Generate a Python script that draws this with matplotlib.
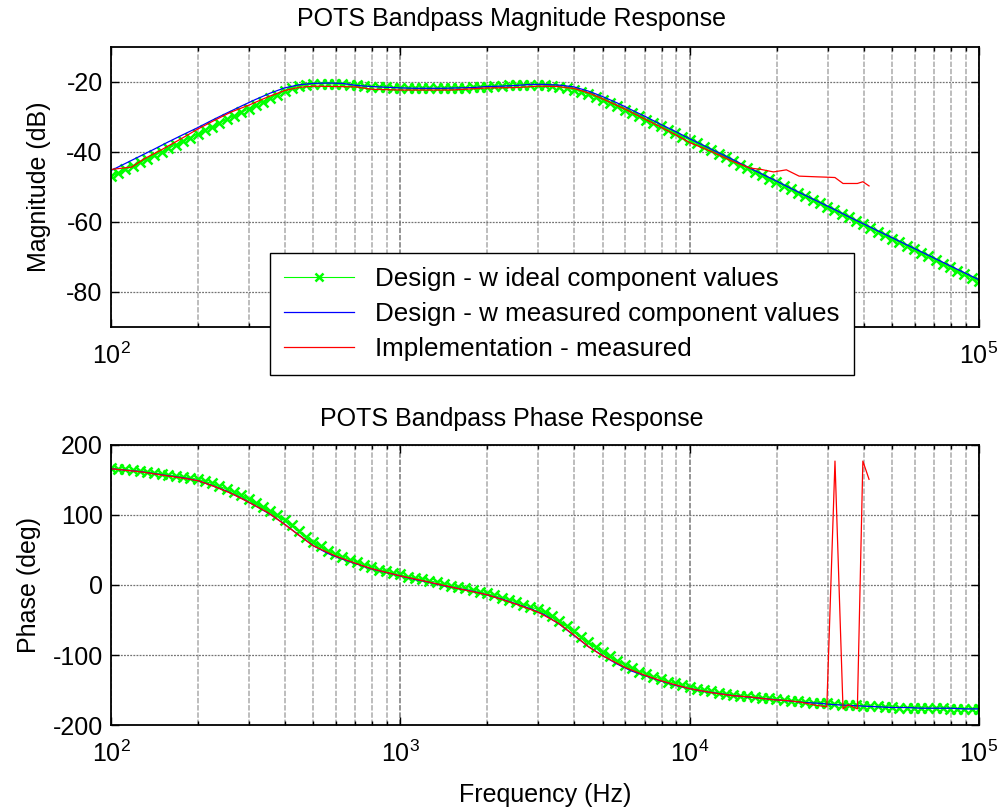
import numpy as np
import matplotlib
matplotlib.use("Agg")
import matplotlib.pyplot as plt

# ---------------------------------------------------------------------------
# data (frequency in Hz, magnitude in dB, phase in deg)
# ---------------------------------------------------------------------------
# ideal design: dense sweep, 40 points / decade
ideal_freq = [100, 106, 112, 119, 126, 133, 141, 150, 158, 168, 178, 188, 200, 211,
              224, 237, 251, 266, 282, 299, 316, 335, 355, 376, 398, 422, 447, 473,
              501, 531, 562, 596, 631, 668, 708, 750, 794, 841, 891, 944,
              1000, 1059, 1122, 1189, 1259, 1334, 1413, 1496, 1585, 1679, 1778, 1884,
              1995, 2113, 2239, 2371, 2512, 2661, 2818, 2985, 3162, 3350, 3548, 3758,
              3981, 4217, 4467, 4732, 5012, 5309, 5623, 5957, 6310, 6683, 7079, 7499,
              7943, 8414, 8913, 9441,
              10000, 10593, 11220, 11885, 12589, 13335, 14125, 14962, 15849, 16788,
              17783, 18836, 19953, 21135, 22387, 23714, 25119, 26607, 28184, 29854,
              31623, 33497, 35481, 37584, 39811, 42170, 44668, 47315, 50119, 53088,
              56234, 59566, 63096, 66834, 70795, 74989, 79433, 84140, 89125, 94406,
              100000]
ideal_mag = [-47.0, -46.0, -45.0, -44.0, -43.0, -42.0, -41.0, -40.0, -38.9, -37.9,
             -36.9, -35.9, -34.8, -33.8, -32.8, -31.7, -30.7, -29.7, -28.7, -27.7,
             -26.6, -25.6, -24.6, -23.6, -22.6, -21.8, -21.2, -20.8, -20.6, -20.5,
             -20.5, -20.6, -20.7, -20.9, -21.0, -21.2, -21.3, -21.4, -21.5, -21.6,
             -21.7, -21.7, -21.8, -21.8, -21.8, -21.8, -21.8, -21.7, -21.7, -21.6,
             -21.5, -21.4, -21.3, -21.2, -21.1, -21.0, -20.9, -20.8, -20.8, -20.8,
             -20.9, -21.1, -21.4, -21.8, -22.2, -22.8, -23.5, -24.3, -25.1, -26.0,
             -26.9, -27.9, -28.8, -29.8, -30.8, -31.7, -32.7, -33.7, -34.7, -35.6,
             -36.5, -37.5, -38.5, -39.5, -40.5, -41.5, -42.5, -43.6, -44.6, -45.6,
             -46.6, -47.6, -48.6, -49.6, -50.6, -51.6, -52.7, -53.7, -54.7, -55.7,
             -56.7, -57.7, -58.7, -59.7, -60.7, -61.8, -62.8, -63.8, -64.8, -65.8,
             -66.8, -67.8, -68.8, -69.8, -70.8, -71.9, -72.9, -73.9, -74.9, -75.9,
             -76.9]
ideal_phase = [167, 166, 165, 164, 163, 162, 160, 159, 157, 156,
               154, 153, 151, 148, 145, 141, 137, 133, 128, 123,
               117, 112, 106, 100, 93, 85, 77, 69, 62, 55,
               49, 44, 40, 36, 33, 29, 26, 22, 20, 17,
               15, 12, 10, 8, 6, 4, 1, -1, -3, -5,
               -7, -10, -12, -15, -18, -21, -24, -28, -31, -35,
               -39, -44, -51, -58, -66, -74, -82, -89, -96, -102,
               -108, -114, -119, -124, -127, -131, -134, -138, -140, -143,
               -146, -148, -150, -152, -154, -155, -157, -158, -159, -160,
               -161, -162, -163, -164, -165, -166, -167, -168, -168.5, -169,
               -170, -171, -171.5, -172, -172.5, -173, -173.5, -174, -174.5, -175,
               -175, -175.5, -175.5, -176, -176, -176, -176.5, -176.5, -177, -177,
               -177]

# design with measured parts: 20 points / decade
meas_freq = [100, 112, 126, 141, 158, 178, 200, 224, 251, 282, 316, 355, 398, 447,
             501, 562, 631, 708, 794, 891, 1000, 1122, 1259, 1413, 1585, 1778, 1995,
             2239, 2512, 2818, 3162, 3548, 3981, 4467, 5012, 5623, 6310, 7079, 7943,
             8913, 10000, 11220, 12589, 14125, 15849, 17783, 19953, 22387, 25119,
             28184, 31623, 35481, 39811, 44668, 50119, 56234, 63096, 70795, 79433,
             89125, 100000]
meas_mag = [-45.3, -43.3, -41.2, -39.2, -37.1, -35.0, -33.0, -30.9, -28.9, -26.9,
            -25.0, -23.2, -21.7, -20.8, -20.4, -20.3, -20.4, -21.0, -21.3, -21.5,
            -21.7, -21.8, -21.8, -21.8, -21.7, -21.6, -21.3, -21.2, -21.0, -20.7,
            -20.7, -20.9, -21.4, -22.6, -24.2, -26.0, -28.0, -30.0, -32.1, -34.1,
            -36.2, -38.2, -40.2, -42.2, -44.3, -46.3, -48.3, -50.4, -52.4, -54.4,
            -56.4, -58.5, -60.5, -62.5, -64.5, -66.5, -68.5, -70.5, -72.5, -74.5,
            -76.5]
meas_phase = [166, 164, 162, 159, 156, 153, 149, 142, 134, 124,
              113, 101, 87, 71, 56, 45, 37, 30, 23, 18,
              13, 8, 4, -1, -5, -9, -14, -20, -27, -34,
              -43, -56, -72, -88, -101, -113, -123, -130, -137, -143,
              -148, -152, -155, -158, -160, -162, -164, -166, -168, -169,
              -171, -172, -173, -174, -175, -175, -176, -176, -176, -177,
              -177]

# implementation, measured on the bench (stops at ~42 kHz)
impl_freq = [100, 118, 130, 150, 175, 200, 230, 260, 300, 350, 400, 450, 500, 600,
             700, 800, 1000, 1200, 1500, 2000, 2500, 3000, 3500, 4000, 4500, 5000,
             6000, 7000, 8000, 9000, 10000, 12000, 14000, 16200, 17700, 19500, 21600,
             23900, 27500, 29800, 31800, 33900, 35300, 38000, 39700, 41700]
impl_mag = [-45.0, -44.3, -42.0, -39.3, -36.2, -33.4, -30.8, -28.6, -26.6, -24.2,
            -22.4, -21.5, -21.2, -21.3, -21.4, -22.1, -22.3, -22.3, -22.3, -21.7,
            -21.6, -21.2, -21.3, -21.9, -23.2, -24.8, -27.8, -30.6, -33.0, -35.2,
            -37.3, -40.0, -42.6, -44.6, -45.0, -45.7, -45.1, -46.9, -47.1, -47.2,
            -47.3, -49.0, -49.0, -49.0, -48.5, -49.7]
impl_phase = [166, 163, 161, 157, 153, 149, 140, 131, 118, 103,
              86, 70, 56, 41, 31, 23, 13, 6, -3, -14,
              -27, -39, -54, -72, -89, -101, -118, -129, -137, -143,
              -148, -154, -158, -160, -162, -164, -165, -167, -172, -174,
              177, -177, -171, -177, 177, 151]

labels = ["Design - w ideal component values",
          "Design - w measured component values",
          "Implementation - measured"]

decade_ticks = [1e2, 1e3, 1e4, 1e5]
decade_labels = [r"$10^{2}$", r"$10^{3}$", r"$10^{4}$", r"$10^{5}$"]

# ---------------------------------------------------------------------------
plt.rcParams["font.family"] = ["Liberation Sans", "DejaVu Sans"]
plt.rcParams["mathtext.fontset"] = "custom"
plt.rcParams["mathtext.rm"] = "Liberation Sans"
plt.rcParams["axes.unicode_minus"] = False
FS = 18

fig = plt.figure(figsize=(9.98, 8.07), dpi=100)
ax1 = fig.add_axes([0.1112, 0.5948, 0.8697, 0.347])
ax2 = fig.add_axes([0.1112, 0.1016, 0.8697, 0.347])


def style_axes(ax):
    ax.set_xscale("log")
    ax.set_xlim(100, 1e5)
    # MATLAB-ish grid: dotted horizontals, greyish verticals
    ax.grid(True, which="major", axis="y", color="0.45", lw=0.9, ls=(0, (1.5, 1)))
    ax.grid(True, which="major", axis="x", color="0.55", lw=1.3, ls=(0, (3, 1)))
    ax.grid(True, which="minor", axis="x", color="0.72", lw=1.3, ls=(0, (3, 1)))
    ax.tick_params(which="both", direction="in", top=True, right=True,
                   labelsize=FS, width=1.0, colors="black")
    ax.tick_params(which="major", length=6)
    ax.tick_params(which="minor", length=3)
    ax.tick_params(axis="y", pad=6)
    ax.tick_params(axis="x", which="both", pad=11)
    for sp in ax.spines.values():
        sp.set_linewidth(1.3)
        sp.set_color("black")
    ax.set_axisbelow(True)


def draw_series(ax, y_ideal, y_meas, y_impl):
    ax.plot(ideal_freq, y_ideal, "-x", color="#00ff00", lw=0.8, ms=7.5, mew=1.8,
            label=labels[0])
    ax.plot(meas_freq, y_meas, "-", color="#0000ff", lw=0.9, label=labels[1])
    ax.plot(impl_freq, y_impl, "-", color="#ff0000", lw=0.9, label=labels[2])


# titles sit a bit left of the axes centre, as in the original figure
TITLE_X = 0.462

# ---- magnitude ----
draw_series(ax1, ideal_mag, meas_mag, impl_mag)
style_axes(ax1)
ax1.set_ylim(-90, -10)
ax1.set_yticks([-80, -60, -40, -20])
# the legend box hides 10^3 and 10^4 in the original, so only the ends are labelled
ax1.set_xticks(decade_ticks)
ax1.set_xticklabels([decade_labels[0], "", "", decade_labels[3]])
ax1.set_ylabel("Magnitude (dB)", fontsize=FS, labelpad=11)
ax1.set_title("POTS Bandpass Magnitude Response", fontsize=FS, pad=15, x=TITLE_X)
leg = ax1.legend(loc="upper left", bbox_to_anchor=(0.183, 0.264),
                 borderaxespad=0, fontsize=18.7, numpoints=1, handlelength=2.7,
                 handletextpad=0.8, labelspacing=0.42, fancybox=False,
                 framealpha=1, edgecolor="black", borderpad=0.55)
leg.get_frame().set_linewidth(1.0)
leg.set_zorder(10)
for h in leg.legend_handles:
    h.set_markersize(6)

# ---- phase ----
draw_series(ax2, ideal_phase, meas_phase, impl_phase)
style_axes(ax2)
ax2.set_ylim(-200, 200)
ax2.set_yticks([-200, -100, 0, 100, 200])
ax2.set_xticks(decade_ticks)
ax2.set_xticklabels(decade_labels)
ax2.set_ylabel("Phase (deg)", fontsize=FS, labelpad=8)
ax2.set_xlabel("Frequency (Hz)", fontsize=FS, labelpad=12)
ax2.set_title("POTS Bandpass Phase Response", fontsize=FS, pad=13.5, x=TITLE_X)

fig.savefig("out.png", dpi=100)
